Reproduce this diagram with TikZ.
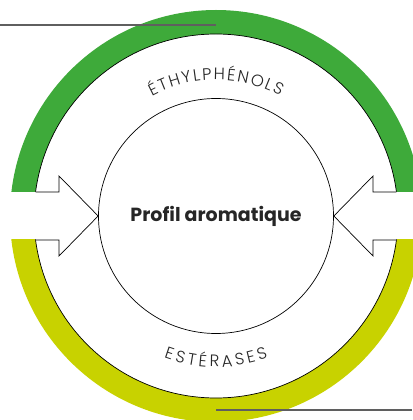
\documentclass[tikz,border=0pt]{standalone}
\usepackage{fontspec}
\setmainfont{Poppins}
\newfontfamily\labelfont{Poppins}[UprightFont=* Light]
\usetikzlibrary{decorations.text}

\definecolor{ethylgreen}{RGB}{62,170,58}
\definecolor{esteryellow}{RGB}{200,210,0}
\definecolor{leadergray}{RGB}{95,95,95}

\tikzset{
  edge/.style={draw=black, line width=0.7pt},
  inlet/.style={draw=black, line width=0.7pt, fill=white, line join=miter},
  leaderline/.style={draw=leadergray, line width=1.2pt},
  arclabel/.style 2 args={decorate, decoration={text effects along path,
      text={#1}, text align=center,
      text effects/.cd,
      characters={text along path, font=\labelfont\fontsize{16.5}{16.5}\selectfont, text=black!85},
      character widths={text along path, inner xsep=#2, font=\labelfont\fontsize{16.5}{16.5}\selectfont}}}
}

\begin{document}
\begin{tikzpicture}[x=1pt, y=1pt]
    \useasboundingbox (-216,-204) rectangle (196,216);

    % Ethylphenols: upper half of the ring
    \begin{scope}
        \clip (-216,24) rectangle (216,216);
        \fill[ethylgreen, even odd rule] (0,0) circle (206) (0,0) circle (182);
        \draw[edge] (0,0) circle (182);
    \end{scope}

    % Esterases: lower half of the ring
    \begin{scope}
        \clip (-216,-24) rectangle (216,-216);
        \fill[esteryellow, even odd rule] (0,0) circle (206) (0,0) circle (182);
        \draw[edge] (0,0) circle (182);
    \end{scope}

    % centre
    \node[circle, edge, minimum size=235pt, inner sep=0pt,
          font=\bfseries\fontsize{19}{19}\selectfont, text=black!85] (profil) at (0,0) {Profil aromatique};

    % inlets from both sides
    \draw[inlet] (-180.4,24) -- (-157,24) -- (-157,40) -- (profil.west)
        -- (-157,-40) -- (-157,-24) -- (-180.4,-24);
    \draw[inlet] (180.4,24) -- (157,24) -- (157,40) -- (profil.east)
        -- (157,-40) -- (157,-24) -- (180.4,-24);

    % curved labels
    \path[arclabel={ÉTHYLPHÉNOLS}{0.9pt}] (150:136) arc[start angle=150, end angle=30, radius=136];
    \path[arclabel={ESTÉRASES}{1.5pt}] (210:151) arc[start angle=210, end angle=330, radius=151];

    % leader lines
    \coordinate (topend) at (-216,191);
    \coordinate (botend) at (196,-194);
    \draw[leaderline] (topend) -- (0,191);
    \draw[leaderline] (0,-194) -- (botend);
\end{tikzpicture}
\end{document}
